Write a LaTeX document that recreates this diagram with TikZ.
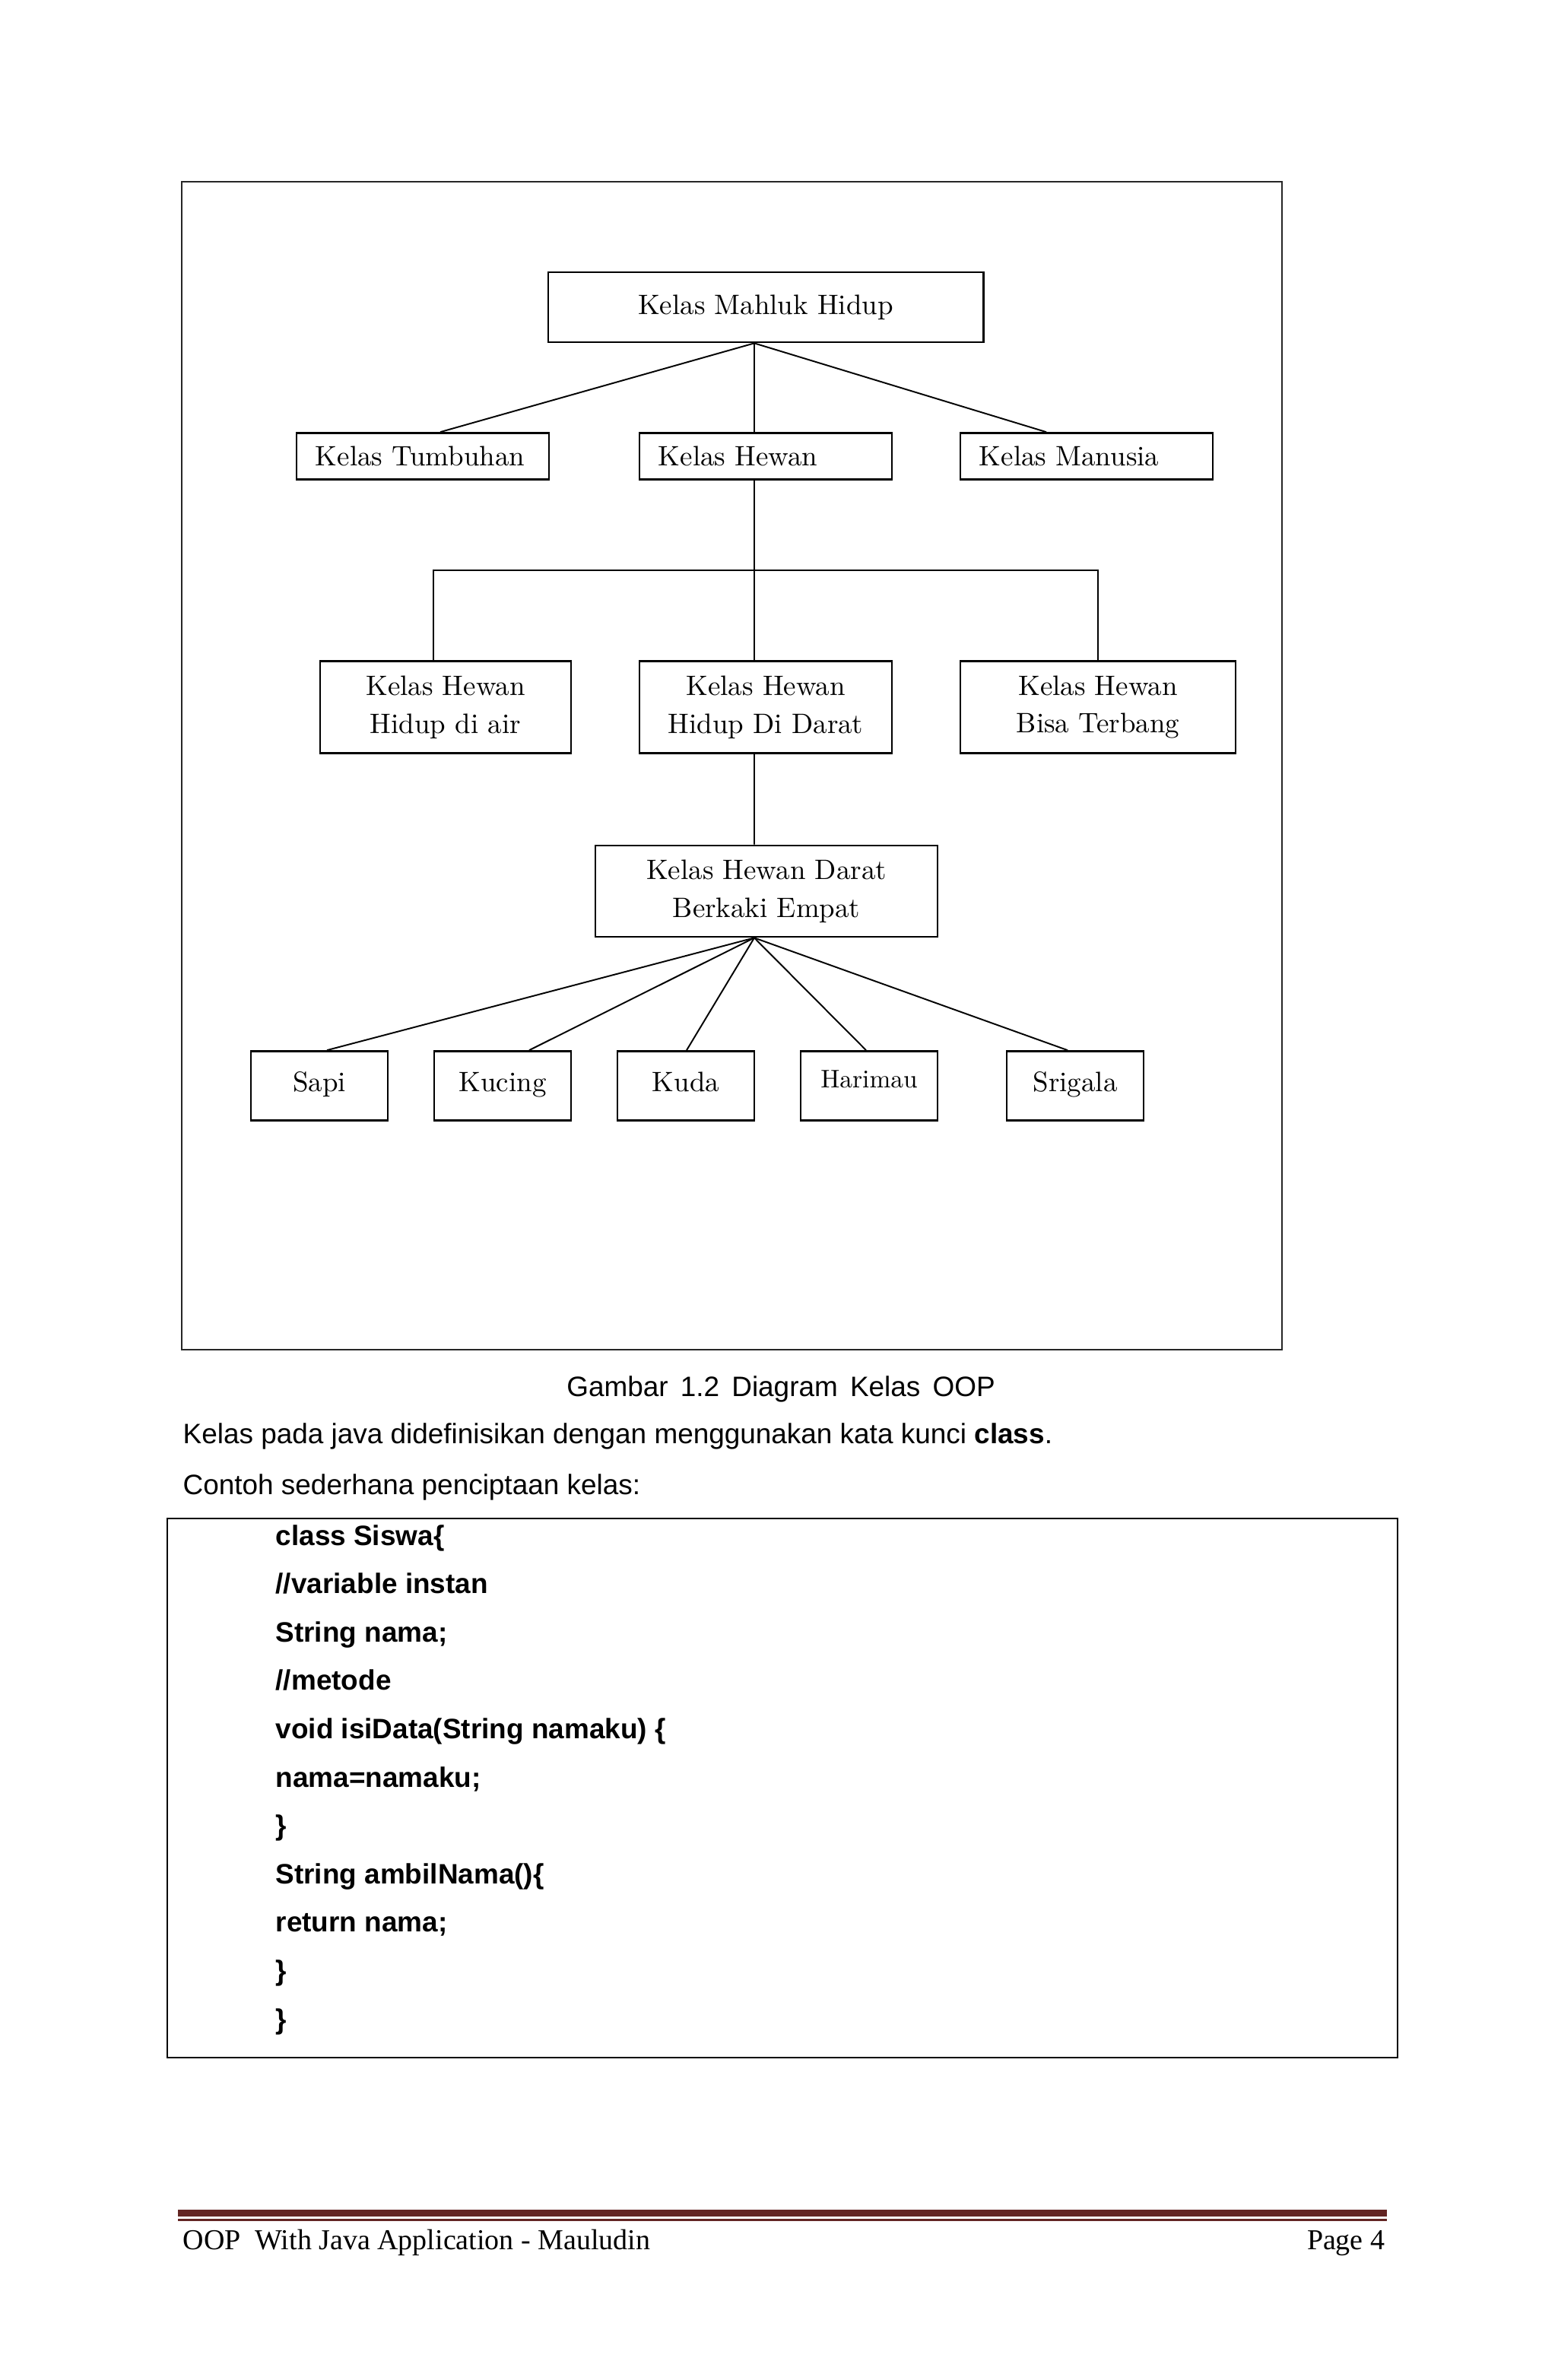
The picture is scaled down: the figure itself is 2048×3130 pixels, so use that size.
\documentclass[tikz,border=0pt]{standalone}
\usepackage{fontspec}
\newfontfamily\arialfont{Liberation Sans}
\newfontfamily\footfont{Liberation Serif}
\definecolor{footred}{RGB}{99,37,35}

\begin{document}
\begin{tikzpicture}[x=0.01cm, y=-0.01cm,
   kotak/.style={draw, line width=0.75pt, inner sep=0pt, align=center,
                 font=\fontsize{10.5}{14.2}\selectfont},
   kotakkiri/.style={kotak, text width=2.82cm, inner xsep=0.25cm, align=left, minimum height=0.61cm},
   daun/.style={kotak, minimum width=1.80cm, minimum height=0.91cm, text height=0.24cm, text depth=0.10cm},
   garis/.style={line width=0.55pt},
   teks/.style={anchor=base west, inner sep=0pt, font=\arialfont\fontsize{10.5}{12}\selectfont},
   kode/.style={teks, font=\arialfont\bfseries\fontsize{10.5}{12}\selectfont},
   catatan/.style={inner sep=0pt, font=\footfont\fontsize{10.8}{12}\selectfont}]

\useasboundingbox (0,0) rectangle (2048,3130);
\fill[white] (0,0) rectangle (2048,3130);

% bingkai gambar
\draw[line width=0.8pt, black!85] (239,239) rectangle (1686,1775);

% hierarki kelas
\node[kotak, minimum width=5.72cm, minimum height=0.92cm] (mahluk) at (1007,404) {Kelas Mahluk Hidup};

\node[kotakkiri] (tumbuhan) at (556,600) {\mbox{Kelas Tumbuhan}};
\node[kotakkiri] (hewan)    at (1007,600) {\mbox{Kelas Hewan}};
\node[kotakkiri] (manusia)  at (1429,600) {\mbox{Kelas Manusia}};

\node[kotak, minimum width=3.30cm, minimum height=1.21cm] (air)     at (586,930)  {Kelas Hewan\\Hidup di air};
\node[kotak, minimum width=3.32cm, minimum height=1.21cm] (darat)   at (1007,930) {Kelas Hewan\\Hidup Di Darat};
\node[kotak, minimum width=3.62cm, minimum height=1.21cm] (terbang) at (1444,930) {Kelas Hewan\\Bisa Terbang};

\node[kotak, minimum width=4.50cm, minimum height=1.20cm] (empat) at (1008,1172) {Kelas Hewan Darat\\Berkaki Empat};

\foreach \nama/\teksdaun/\x in {sapi/Sapi/420, kucing/Kucing/661, kuda/Kuda/902, srigala/Srigala/1414}
    \node[daun] (\nama) at (\x,1428) {\teksdaun};
\node[daun, font=\fontsize{9.5}{12}\selectfont] (harimau) at (1143,1428) {\raisebox{0.05cm}{Harimau}};

% garis penghubung
\coordinate (pusat) at ([xshift=-0.15cm]mahluk.south);
\draw[garis] (pusat) -- ([xshift=0.23cm]tumbuhan.north);
\draw[garis] (pusat) -- ([xshift=-0.15cm]hewan.north);
\draw[garis] (pusat) -- ([xshift=-0.53cm]manusia.north);

\coordinate (palang) at (992,750);
\draw[garis] ([xshift=-0.15cm]hewan.south) -- ([xshift=-0.15cm]darat.north);
\draw[garis] ([xshift=-0.16cm]air.north) |- (palang) -| (terbang.north);
\draw[garis] ([xshift=-0.15cm]darat.south) -- ([xshift=-0.16cm]empat.north);

\coordinate (kaki) at ([xshift=-0.16cm]empat.south);
\foreach \nama/\geser in {sapi/0.10, kucing/0.35, kuda/0.01, harimau/-0.04, srigala/-0.10}
    \draw[garis] (kaki) -- ([xshift=\geser cm]\nama.north);

% teks
\node[teks, anchor=base] (judul) at (1027,1836) {\spaceskip=4.6pt Gambar 1.2 Diagram Kelas OOP};
\node[teks] (ket1) at (240,1898) {Kelas pada java didefinisikan dengan menggunakan kata kunci \textbf{class}.};
\node[teks] (ket2) at (240,1965) {Contoh sederhana penciptaan kelas:};

% kotak kode
\draw[line width=0.8pt] (220,1997) rectangle (1838,2706);
\foreach \baris [count=\i from 0] in {class Siswa\{, //variable instan, String nama;, //metode,
        void isiData(String namaku) \{, nama=namaku;, \}, String ambilNama()\{, return nama;, \}, \}}
    \node[kode] (kode\i) at (362,2032+63.6*\i) {\baris};

% kaki halaman
\fill[footred] (234,2906) rectangle (1824,2915);
\fill[footred] (234,2918) rectangle (1824,2921);
\node[catatan, anchor=base west] (penulis) at (240,2958) {OOP\ \ With Java Application - Mauludin};
\node[catatan, anchor=base east] (halaman) at (1822,2958) {Page 4};

\end{tikzpicture}
\end{document}
